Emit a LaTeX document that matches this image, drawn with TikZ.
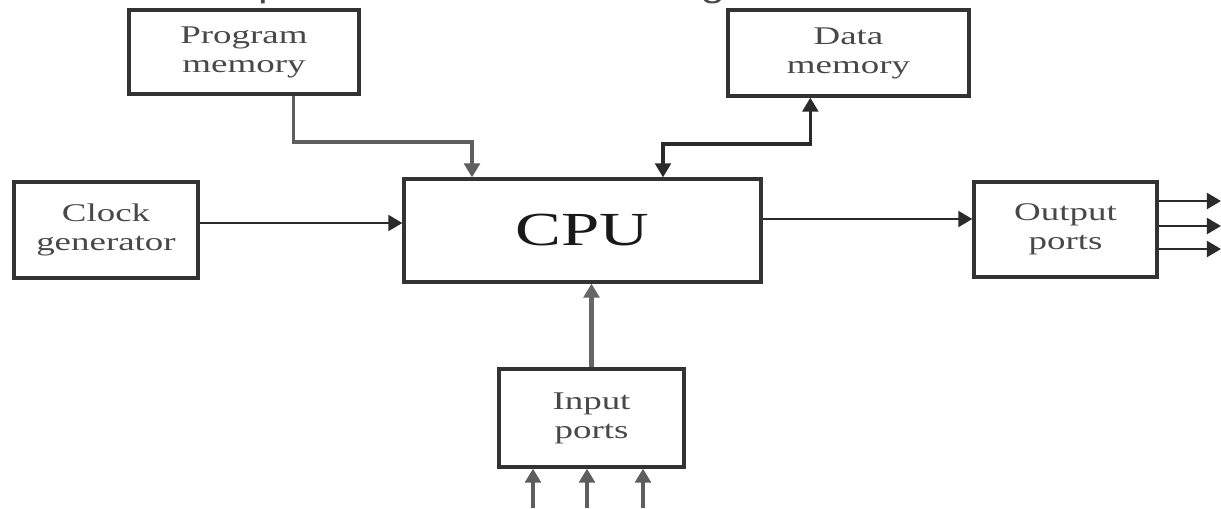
\documentclass[tikz,border=0pt]{standalone}
\usepackage{fontspec}
\usetikzlibrary{arrows.meta,calc}
\newfontfamily\lblfont[FakeStretch=1.45]{Liberation Serif}
\newfontfamily\topfont[FakeStretch=1.4]{Liberation Sans}
\definecolor{boxgray}{HTML}{333333}
\definecolor{txtgray}{HTML}{484848}
\definecolor{lngray}{HTML}{5E5E5E}
\definecolor{dkline}{HTML}{2A2A2A}
\tikzset{
  blk/.style={draw=boxgray, line width=1.9pt, fill=white, rectangle, align=center,
    inner sep=0pt, font=\lblfont\fontsize{14.5pt}{16.5pt}\selectfont, text=txtgray},
  conn/.style={line width=1.5pt, draw=dkline, -{Triangle[length=8pt,width=9pt]}},
  gconn/.style={line width=2pt, draw=lngray, -{Triangle[length=8pt,width=9pt]}},
  bconn/.style={line width=1.8pt, draw=dkline, {Triangle[length=8pt,width=9pt]}-{Triangle[length=8pt,width=9pt]}},
}
\begin{document}
\begin{tikzpicture}[x=0.02cm,y=-0.02cm]
\useasboundingbox (0,0) rectangle (1221,508);
\clip (0,0) rectangle (1221,508);
\fill[white] (0,0) rectangle (1221,508);
% partially visible caption line at the top
\node[anchor=base west, inner sep=0pt, text=txtgray, font=\topfont\fontsize{17.5pt}{19pt}\selectfont] (cap) at (45,-2.5) {These components are shown in figure below};
% blocks
\node[blk, minimum width=4.6cm, minimum height=1.68cm] (pm) at (244,52) {Program\\memory};
\node[blk, minimum width=4.82cm, minimum height=1.72cm] (dm) at (848.5,53) {Data\\memory};
\node[blk, minimum width=3.68cm, minimum height=1.92cm] (clk) at (106,230) {Clock\\generator};
\node[blk, minimum width=7.14cm, minimum height=2.06cm, text=black!90, font=\lblfont\fontsize{27pt}{30pt}\selectfont] (cpu) at (582.5,230.5) {CPU};
\node[blk, minimum width=3.66cm, minimum height=1.9cm] (out) at (1065.5,229.5) {Output\\ports};
\node[blk, minimum width=3.7cm, minimum height=1.96cm] (in) at (591.5,418) {Input\\ports};
% junction / free-end coordinates
\coordinate (pmj) at (472,142);
\coordinate (dmj) at (663,144);
\coordinate (o1) at (1221,201);
\coordinate (o2) at (1221,226);
\coordinate (o3) at (1221,249);
\coordinate (i1) at (533,508);
\coordinate (i2) at (587,508);
\coordinate (i3) at (643,508);
% connectors
\draw[gconn] ([xshift=3.32cm]pm.south west) |- (pmj) -- (pmj |- cpu.north);
\draw[bconn] ([xshift=1.68cm]dm.south west) |- (dmj) -- (dmj |- cpu.north);
\draw[conn] ([yshift=0.14cm]clk.east) -- ([yshift=0.14cm]clk.east -| cpu.west);
\draw[conn] ([yshift=0.23cm]cpu.east) -- ([yshift=0.23cm]cpu.east -| out.west);
\draw[conn] (o1 -| out.east) -- (o1);
\draw[conn] (o2 -| out.east) -- (o2);
\draw[conn] (o3 -| out.east) -- (o3);
\draw[gconn, line width=2.6pt, draw=gray!80!black] (in.north) -- (in.north |- cpu.south);
\draw[gconn] (i1) -- (i1 |- in.south);
\draw[gconn] (i2) -- (i2 |- in.south);
\draw[gconn] (i3) -- (i3 |- in.south);
\end{tikzpicture}
\end{document}
